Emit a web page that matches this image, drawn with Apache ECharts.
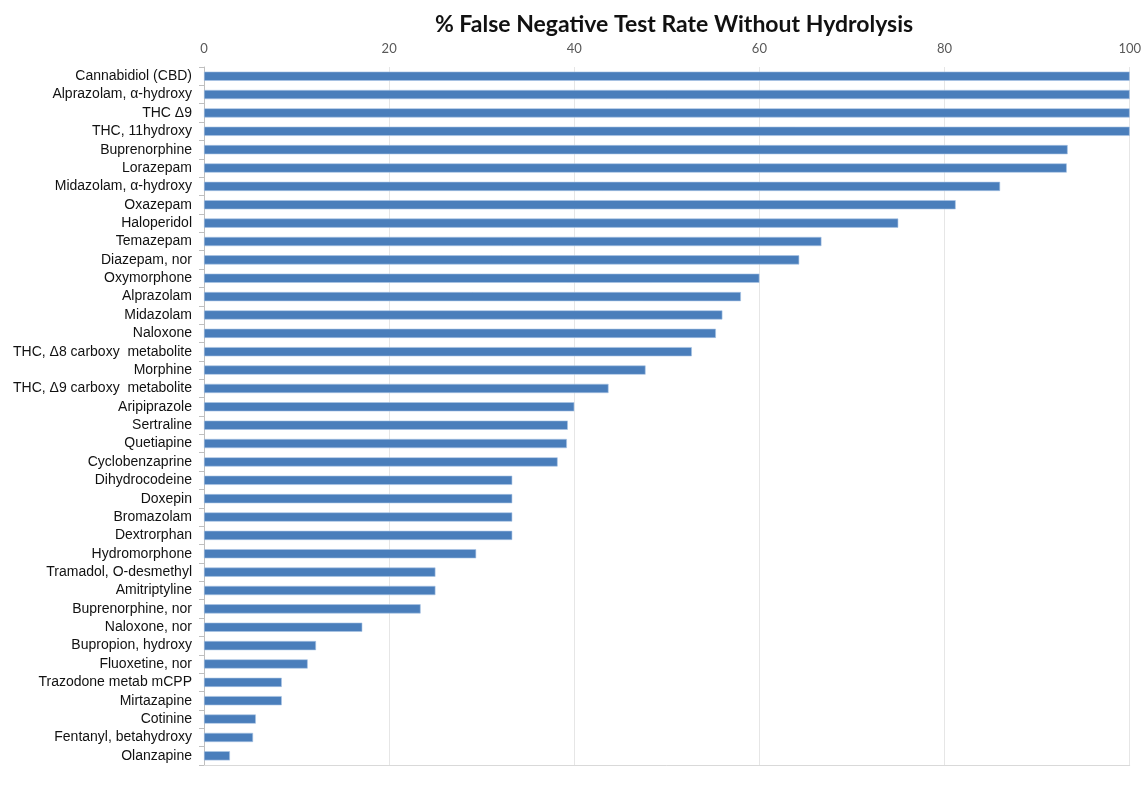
<!DOCTYPE html>
<html>
<head>
<meta charset="utf-8">
<title>% False Negative Test Rate Without Hydrolysis</title>
<script src="https://cdn.jsdelivr.net/npm/echarts@6/dist/echarts.min.js"></script>
<style>
  html, body { margin: 0; padding: 0; background: #fff; }
  #chart { width: 1144px; height: 805px; }
</style>
</head>
<body>
<div id="chart"></div>
<script>
// drug names, top to bottom
const drugs = [
  'Cannabidiol (CBD)', 'Alprazolam, α-hydroxy', 'THC Δ9', 'THC, 11hydroxy',
  'Buprenorphine', 'Lorazepam', 'Midazolam, α-hydroxy', 'Oxazepam',
  'Haloperidol', 'Temazepam', 'Diazepam, nor', 'Oxymorphone',
  'Alprazolam', 'Midazolam', 'Naloxone', 'THC, Δ8 carboxy  metabolite',
  'Morphine', 'THC, Δ9 carboxy  metabolite', 'Aripiprazole', 'Sertraline',
  'Quetiapine', 'Cyclobenzaprine', 'Dihydrocodeine', 'Doxepin',
  'Bromazolam', 'Dextrorphan', 'Hydromorphone', 'Tramadol, O-desmethyl',
  'Amitriptyline', 'Buprenorphine, nor', 'Naloxone, nor', 'Bupropion, hydroxy',
  'Fluoxetine, nor', 'Trazodone metab mCPP', 'Mirtazapine', 'Cotinine',
  'Fentanyl, betahydroxy', 'Olanzapine'
];

// % false negative
const falseNegRate = [
  100, 100, 100, 100,
  93.3, 93.2, 86.0, 81.2,
  75.0, 66.7, 64.3, 60.0,
  58.0, 56.0, 55.3, 52.7,
  47.7, 43.7, 40.0, 39.3,
  39.2, 38.2, 33.3, 33.3,
  33.3, 33.3, 29.4, 25.0,
  25.0, 23.4, 17.1, 12.1,
  11.2, 8.4, 8.4, 5.6,
  5.3, 2.8
];

const xTicks = [0, 20, 40, 60, 80, 100];

const chart = echarts.init(document.getElementById('chart'), null, { renderer: 'canvas' });

chart.setOption({
  backgroundColor: '#ffffff',
  animation: false,
  title: {
    text: '% False Negative Test Rate Without Hydrolysis',
    left: 669,
    textAlign: 'center',
    top: 8,
    textStyle: { fontFamily: 'Lato', fontWeight: 'bold', fontSize: 23, color: '#111' }
  },
  grid: { left: 204, right: 14, top: 67, bottom: 40 },
  xAxis: [
    {
      type: 'value',
      position: 'top',
      min: xTicks[0],
      max: xTicks[xTicks.length - 1],
      interval: 20,
      axisLine: { show: false },
      axisTick: { show: false },
      axisLabel: { color: '#595959', fontFamily: 'Lato', fontSize: 13, margin: 12 },
      splitLine: { show: true, lineStyle: { color: '#e6e6e6', width: 1 } }
    },
    {
      type: 'value',
      position: 'bottom',
      min: 0,
      max: 100,
      axisLine: { show: true, lineStyle: { color: '#d9d9d9' } },
      axisTick: { show: false },
      axisLabel: { show: false },
      splitLine: { show: false }
    }
  ],
  yAxis: {
    type: 'category',
    inverse: true,
    data: drugs,
    axisLine: { show: true, lineStyle: { color: '#bfbfbf' } },
    axisTick: { show: true, length: 5, lineStyle: { color: '#bfbfbf' } },
    axisLabel: {
      color: '#111',
      fontFamily: 'Liberation Sans',
      fontSize: 14,
      margin: 12,
      interval: 0
    }
  },
  series: [{
    type: 'bar',
    xAxisIndex: 0,
    data: falseNegRate,
    barWidth: '50%',
    itemStyle: { color: '#4a7ebb', borderColor: '#a9c4e4', borderWidth: 0.6 }
  }]
});
</script>
</body>
</html>
